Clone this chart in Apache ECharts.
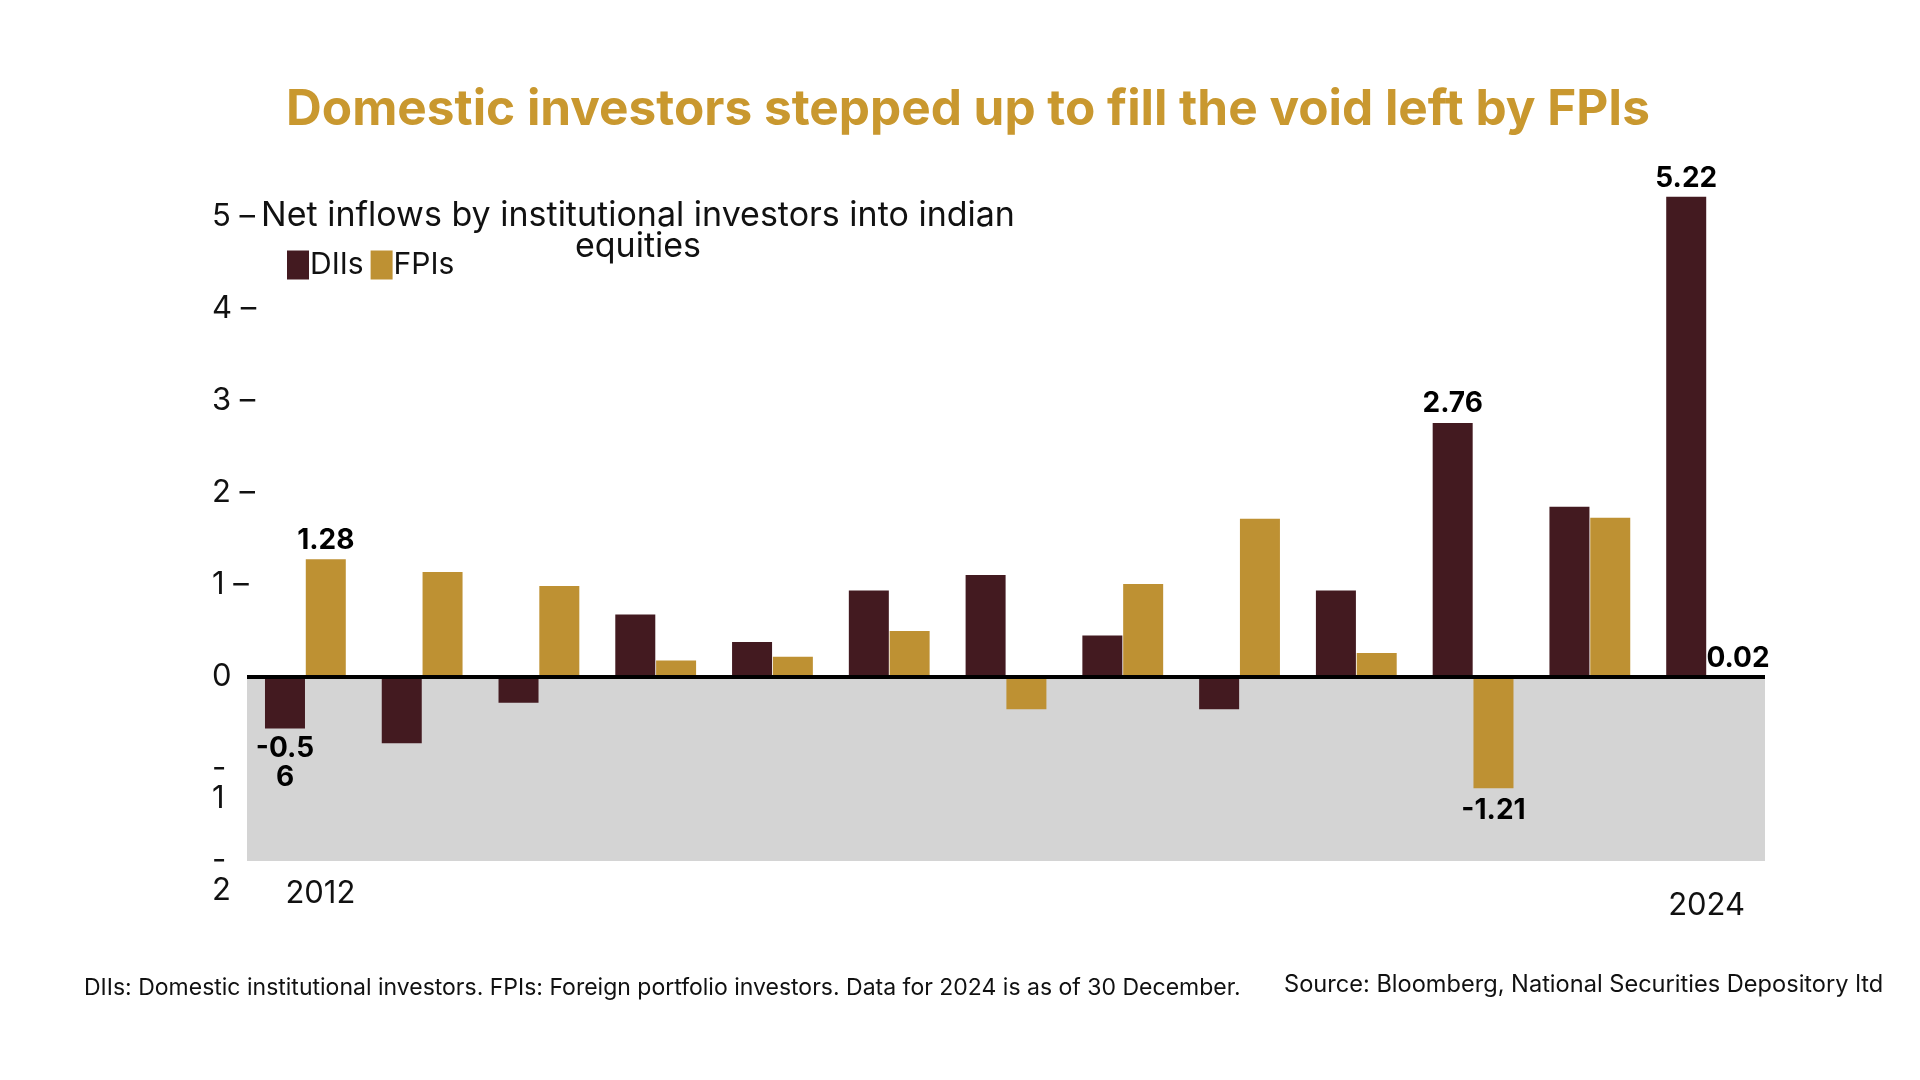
<!DOCTYPE html>
<html>
<head>
<meta charset="utf-8">
<script src="https://cdn.jsdelivr.net/npm/echarts@6/dist/echarts.min.js"></script>
<style>
html,body{margin:0;padding:0;background:#fff;}
#chart{width:1920px;height:1080px;}
</style>
</head>
<body>
<div id="chart"></div>
<script>
const years = ['2012','2013','2014','2015','2016','2017','2018','2019','2020','2021','2022','2023','2024'];
const diiValues = [-0.56, -0.72, -0.28, 0.68, 0.38, 0.94, 1.11, 0.45, -0.35, 0.94, 2.76, 1.85, 5.22];
const fpiValues = [1.28, 1.14, 0.99, 0.18, 0.22, 0.50, -0.35, 1.01, 1.72, 0.26, -1.21, 1.73, 0.02];
const yTicks = [-2, -1, 0, 1, 2, 3, 4, 5];
const shownYears = ['2012', '2024'];

const FONT = 'Inter';
const DII_COLOR = '#431a20';
const FPI_COLOR = '#be9133';
const labelStyle = {show: true, color: '#000', fontFamily: FONT, fontWeight: 'bold', fontSize: 28};

const diiData = diiValues.map((v, i) => {
  const item = {value: v};
  if (i === 0) item.label = Object.assign({}, labelStyle, {position: 'bottom', distance: 6, lineHeight: 29, formatter: '-0.5\n6'});
  if (i === 10) item.label = Object.assign({}, labelStyle, {position: 'top', distance: 6});
  if (i === 12) item.label = Object.assign({}, labelStyle, {position: 'top', distance: 4});
  return item;
});
const fpiData = fpiValues.map((v, i) => {
  const item = {value: v};
  if (i === 0) item.label = Object.assign({}, labelStyle, {position: 'top', distance: 5});
  if (i === 10) item.label = Object.assign({}, labelStyle, {position: 'bottom', distance: 8});
  if (i === 12) item.label = Object.assign({}, labelStyle, {position: 'top', distance: 3, offset: [11, 0]});
  return item;
});

const chart = echarts.init(document.getElementById('chart'));
chart.setOption({
  backgroundColor: '#fff',
  animation: false,
  title: [
    {text: 'Domestic investors stepped up to fill the void left by FPIs', left: 968, top: 85, textAlign: 'center', padding: 0,
     textStyle: {color: '#c9982f', fontFamily: FONT, fontWeight: 'bold', fontSize: 49.5}},
    {text: 'Net inflows by institutional investors into indian\nequities', left: 638, top: 200, textAlign: 'center', padding: 0,
     textStyle: {color: '#111', fontFamily: FONT, fontWeight: 'normal', fontSize: 34, lineHeight: 31}},
    {text: 'DIIs: Domestic institutional investors. FPIs: Foreign portfolio investors. Data for 2024 is as of 30 December.', left: 84, top: 977, padding: 0,
     textStyle: {color: '#111', fontFamily: FONT, fontWeight: 'normal', fontSize: 23}},
    {text: 'Source: Bloomberg, National Securities Depository ltd', left: 1284, top: 973, padding: 0,
     textStyle: {color: '#111', fontFamily: FONT, fontWeight: 'normal', fontSize: 23.6}}
  ],
  legend: {
    left: 282, top: 245, itemWidth: 22, itemHeight: 29, itemGap: 7,
    icon: 'rect',
    textStyle: {fontFamily: FONT, fontSize: 30, color: '#111', padding: [0, 0, 0, -4]},
    data: ['DIIs', 'FPIs']
  },
  grid: {left: 247, right: 155, top: 125, bottom: 219},
  xAxis: {
    type: 'category',
    data: years,
    axisLine: {show: false, onZero: false},
    axisTick: {show: false},
    splitLine: {show: false},
    axisLabel: {
      interval: 0, margin: 17, color: '#111', fontFamily: FONT, fontSize: 31,
      formatter: v => v === shownYears[0] ? '{a|' + v + '}' : (v === shownYears[1] ? '{b|' + v + '}' : ''),
      rich: {
        a: {fontFamily: FONT, fontSize: 31, color: '#111', padding: [0, 0, 0, 30]},
        b: {fontFamily: FONT, fontSize: 31, color: '#111', padding: [12, 0, 0, 0]}
      }
    }
  },
  yAxis: {
    type: 'value', min: -2, max: 6, interval: 1,
    axisLine: {show: false}, axisTick: {show: false},
    splitLine: {show: false},
    splitArea: {show: true, areaStyle: {color: ['#d4d4d4', '#d4d4d4', 'rgba(255,255,255,0)', 'rgba(255,255,255,0)', 'rgba(255,255,255,0)', 'rgba(255,255,255,0)', 'rgba(255,255,255,0)', 'rgba(255,255,255,0)']}},
    axisLabel: {
      showMinLabel: true, hideOverlap: false,
      align: 'left', margin: 35, color: '#111', fontFamily: FONT, fontSize: 31, lineHeight: 30,
      formatter: v => {
        if (yTicks.indexOf(v) < 0) return '';
        if (v > 0) return v + ' \u2013';
        if (v === 0) return '0';
        return '\n-\n' + Math.abs(v);
      }
    }
  },
  series: [
    {name: 'DIIs', type: 'bar', data: diiData, barWidth: 40, barGap: '2%', itemStyle: {color: DII_COLOR},
     markLine: {silent: true, symbol: 'none', label: {show: false}, lineStyle: {color: '#000', width: 4, type: 'solid'},
                data: [{yAxis: 0}], z: 10}},
    {name: 'FPIs', type: 'bar', data: fpiData, barWidth: 40, barGap: '2%', itemStyle: {color: FPI_COLOR}}
  ]
});
</script>
</body>
</html>
